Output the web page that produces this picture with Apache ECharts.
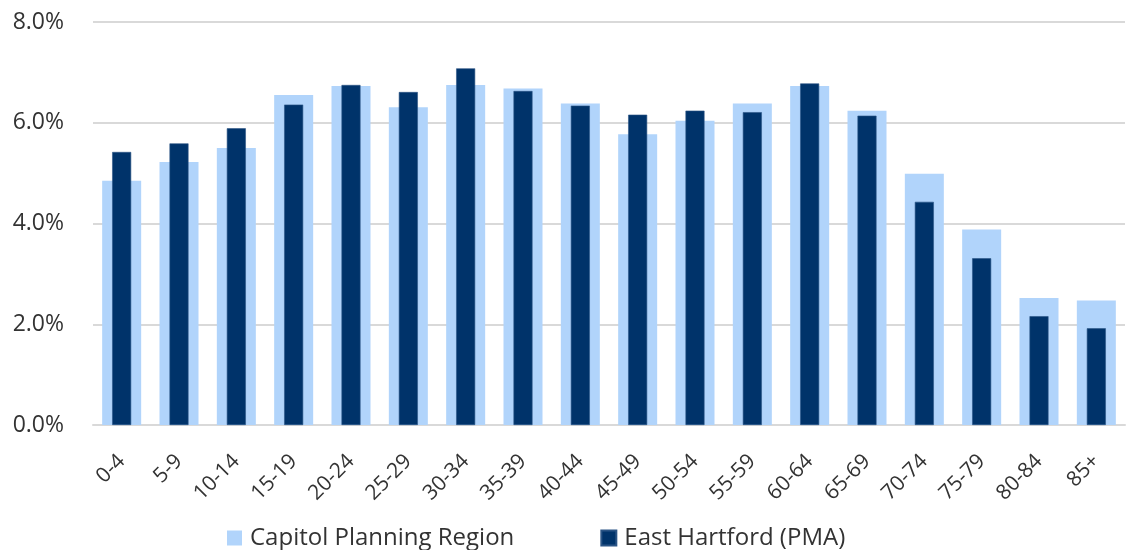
<!DOCTYPE html>
<html>
<head>
<meta charset="utf-8">
<script src="https://cdn.jsdelivr.net/npm/echarts@6/dist/echarts.min.js"></script>
<style>
  html, body { margin: 0; padding: 0; background: #fff; }
  #chart { width: 1129px; height: 550px; }
</style>
</head>
<body>
<div id="chart"></div>
<script>
// Age cohorts (years)
const ageGroups = ['0-4', '5-9', '10-14', '15-19', '20-24', '25-29', '30-34', '35-39', '40-44',
  '45-49', '50-54', '55-59', '60-64', '65-69', '70-74', '75-79', '80-84', '85+'];

// Share of total population, percent
const capitolRegion = [4.85, 5.22, 5.50, 6.55, 6.73, 6.31, 6.75, 6.68, 6.38,
  5.77, 6.04, 6.38, 6.73, 6.24, 4.99, 3.88, 2.52, 2.47];
const eastHartford = [5.42, 5.59, 5.89, 6.36, 6.75, 6.61, 7.08, 6.63, 6.34,
  6.16, 6.24, 6.21, 6.78, 6.14, 4.43, 3.31, 2.16, 1.92];

const yTicks = [0, 2, 4, 6, 8];

const FONT = '"Open Sans", "Noto Sans", sans-serif';
const TEXT = '#333333';

const chart = echarts.init(document.getElementById('chart'));
chart.setOption({
  animation: false,
  textStyle: { fontFamily: FONT },
  grid: { left: 93, right: 4, top: 22, bottom: 125, containLabel: false },
  legend: {
    left: 222,
    top: 521,
    itemWidth: 15,
    itemHeight: 15,
    itemGap: 86,
    icon: 'rect',
    textStyle: { fontSize: 24, color: TEXT, fontFamily: FONT, padding: [0, 0, 0, 3] },
    data: ['Capitol Planning Region', 'East Hartford (PMA)']
  },
  xAxis: [
    {
      type: 'category',
      data: ageGroups,
      axisLine: { lineStyle: { color: '#d9d9d9', width: 2 } },
      axisTick: { show: false },
      axisLabel: { rotate: 45, fontSize: 21, color: TEXT, margin: 33, interval: 0, fontFamily: FONT }
    },
    {
      type: 'category',
      data: ageGroups,
      show: false
    }
  ],
  yAxis: {
    type: 'value',
    min: yTicks[0],
    max: yTicks[yTicks.length - 1],
    interval: 2,
    axisLine: { show: false },
    axisTick: { show: false },
    splitLine: { lineStyle: { color: '#d9d9d9', width: 2 } },
    axisLabel: {
      fontSize: 23, color: TEXT, margin: 29, fontFamily: FONT,
      formatter: v => v.toFixed(1) + '%'
    }
  },
  series: [
    {
      name: 'Capitol Planning Region',
      type: 'bar',
      xAxisIndex: 0,
      data: capitolRegion,
      barWidth: 39,
      itemStyle: { color: '#b1d4fb' }
    },
    {
      name: 'East Hartford (PMA)',
      type: 'bar',
      xAxisIndex: 1,
      data: eastHartford,
      barWidth: 19,
      itemStyle: { color: '#00336a', borderColor: '#2a5485', borderWidth: 0.6 }
    }
  ]
});
</script>
</body>
</html>
